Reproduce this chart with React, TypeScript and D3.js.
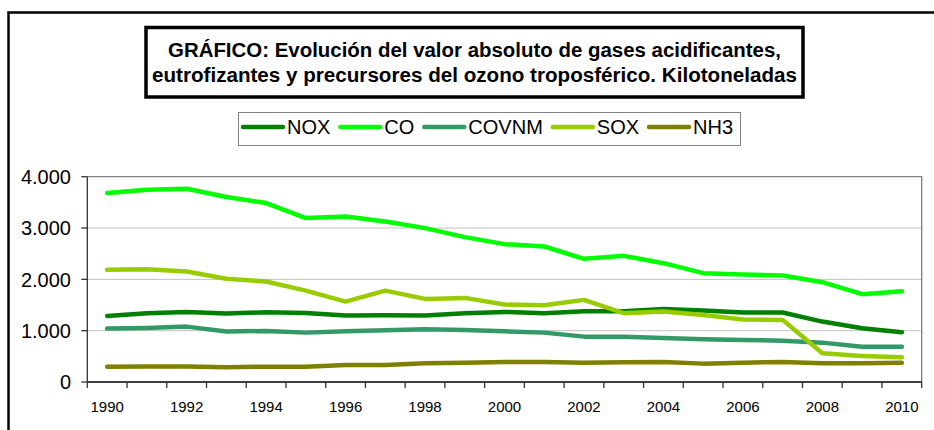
import React, { useEffect, useRef } from "react";
import * as d3 from "d3";

const years: number[] = [1990, 1991, 1992, 1993, 1994, 1995, 1996, 1997, 1998, 1999, 2000, 2001, 2002, 2003, 2004, 2005, 2006, 2007, 2008, 2009, 2010];
const seriesNames: string[] = ["NOX", "CO", "COVNM", "SOX", "NH3"];
const seriesColors: string[] = ["#008000", "#00FF00", "#339966", "#99CC00", "#808000"];
const NOX: number[] = [1288, 1340, 1366, 1333, 1359, 1346, 1294, 1300, 1294, 1340, 1366, 1340, 1379, 1379, 1420, 1392, 1353, 1353, 1177, 1047, 969];
const CO: number[] = [3681, 3746, 3765, 3603, 3486, 3193, 3225, 3128, 2998, 2823, 2686, 2640, 2400, 2458, 2315, 2120, 2094, 2075, 1945, 1711, 1769];
const COVNM: number[] = [1040, 1054, 1079, 982, 995, 962, 988, 1008, 1028, 1014, 988, 962, 884, 884, 858, 832, 819, 806, 767, 689, 689];
const SOX: number[] = [2185, 2199, 2152, 2010, 1957, 1781, 1567, 1781, 1619, 1639, 1509, 1496, 1600, 1340, 1372, 1307, 1216, 1210, 560, 507, 481];
const NH3: number[] = [299, 300, 300, 286, 299, 299, 332, 332, 364, 377, 390, 390, 377, 384, 390, 358, 377, 390, 364, 364, 377];
const seriesValues: number[][] = [NOX, CO, COVNM, SOX, NH3];
const yTicks: number[] = [0, 1000, 2000, 3000, 4000];
const titleLines: string[] = [
  "GRÁFICO: Evolución del valor absoluto de gases acidificantes,",
  "eutrofizantes y precursores del ozono troposférico. Kilotoneladas",
];

const W = 934;
const H = 430;
const FONT = "'Liberation Sans', Arial, sans-serif";

export default function App() {
  const ref = useRef<SVGSVGElement | null>(null);

  useEffect(() => {
    const svg = d3.select(ref.current);
    svg.selectAll("*").remove();

    const left = 87.3, right = 921.7, top = 176.7, bottom = 382;

    const x = d3.scaleBand<number>().domain(years).range([left, right]).paddingInner(0).paddingOuter(0);
    const y = d3.scaleLinear().domain([0, 4000]).range([bottom, top]);
    const fmt = (v: number) => d3.format(",")(v).replace(/,/g, ".");

    svg.append("rect").attr("x", 0).attr("y", 0).attr("width", W).attr("height", H).attr("fill", "#fff");

    // outer frame
    svg.append("rect").attr("x", 8.5).attr("y", 12.5).attr("width", W + 10).attr("height", H + 10)
      .attr("fill", "none").attr("stroke", "#000").attr("stroke-width", 2.5);

    // title box
    svg.append("rect").attr("x", 146).attr("y", 27.5).attr("width", 657).attr("height", 69.5)
      .attr("fill", "#fff").attr("stroke", "#000").attr("stroke-width", 3.5);
    const titleWidths = [613, 645];
    titleLines.forEach((t, i) => {
      svg.append("text").attr("x", 474.5).attr("y", 57 + i * 24.5).attr("text-anchor", "middle")
        .attr("font-family", FONT).attr("font-weight", "bold").attr("font-size", 19.5).attr("fill", "#000")
        .attr("textLength", titleWidths[i]).attr("lengthAdjust", "spacingAndGlyphs").text(t);
    });

    // gridlines
    svg.append("g").selectAll("line").data(yTicks.filter((d) => d > 0 && d < 4000)).join("line")
      .attr("x1", left).attr("x2", right).attr("y1", (d) => y(d)).attr("y2", (d) => y(d))
      .attr("stroke", "#c0c0c0").attr("stroke-width", 1);

    // plot border top/right
    svg.append("path").attr("d", `M${left},${top}H${right}V${bottom}`).attr("fill", "none")
      .attr("stroke", "#808080").attr("stroke-width", 1.3);

    // y axis
    const ya = svg.append("g");
    ya.append("line").attr("x1", left).attr("x2", left).attr("y1", top).attr("y2", bottom).attr("stroke", "#333").attr("stroke-width", 1.3);
    ya.selectAll("line.tick").data(yTicks).join("line").attr("class", "tick")
      .attr("x1", left - 6).attr("x2", left).attr("y1", (d) => y(d)).attr("y2", (d) => y(d)).attr("stroke", "#333").attr("stroke-width", 1.3);
    ya.selectAll("text").data(yTicks).join("text")
      .attr("x", 71).attr("y", (d) => y(d)).attr("dy", "0.36em").attr("text-anchor", "end")
      .attr("font-family", FONT).attr("font-size", 20).attr("fill", "#000").text((d) => fmt(d));

    // x axis
    const xa = svg.append("g");
    xa.append("line").attr("x1", left).attr("x2", right).attr("y1", bottom).attr("y2", bottom).attr("stroke", "#000").attr("stroke-width", 1.3);
    const bounds = years.map((yr) => x(yr) as number).concat([right]);
    xa.selectAll("line.tick").data(bounds).join("line").attr("class", "tick")
      .attr("x1", (d) => d).attr("x2", (d) => d).attr("y1", bottom).attr("y2", bottom + 6).attr("stroke", "#333").attr("stroke-width", 1.3);
    xa.selectAll("text").data(years.filter((yr) => yr % 2 === 0)).join("text")
      .attr("x", (d) => (x(d) as number) + x.bandwidth() / 2).attr("y", 411.5).attr("text-anchor", "middle")
      .attr("font-family", FONT).attr("font-size", 15).attr("fill", "#000").text((d) => String(d));

    // lines
    const line = d3.line<number>().x((_, i) => (x(years[i]) as number) + x.bandwidth() / 2).y((d) => y(d));
    seriesValues.forEach((vals, si) => {
      svg.append("path").attr("d", line(vals) as string).attr("fill", "none")
        .attr("stroke", seriesColors[si]).attr("stroke-width", 4.5)
        .attr("stroke-linejoin", "round").attr("stroke-linecap", "round");
    });

    // legend
    const lg = svg.append("g");
    lg.append("rect").attr("x", 238.5).attr("y", 112.5).attr("width", 502).attr("height", 33)
      .attr("fill", "#fff").attr("stroke", "#808080").attr("stroke-width", 1);
    let cx = 243;
    seriesNames.forEach((name, i) => {
      lg.append("line").attr("x1", cx).attr("x2", cx + 40).attr("y1", 127).attr("y2", 127)
        .attr("stroke", seriesColors[i]).attr("stroke-width", 4.5).attr("stroke-linecap", "round");
      const t = lg.append("text").attr("x", cx + 44).attr("y", 127).attr("dy", "0.36em")
        .attr("font-family", FONT).attr("font-size", 20).attr("fill", "#000").text(name);
      const w = (t.node() as SVGTextElement).getComputedTextLength();
      cx = cx + 44 + w + 10;
    });
  }, []);

  return (
    <svg ref={ref} width={W} height={H} style={{ position: "absolute", left: 0, top: 0, display: "block" }} />
  );
}
